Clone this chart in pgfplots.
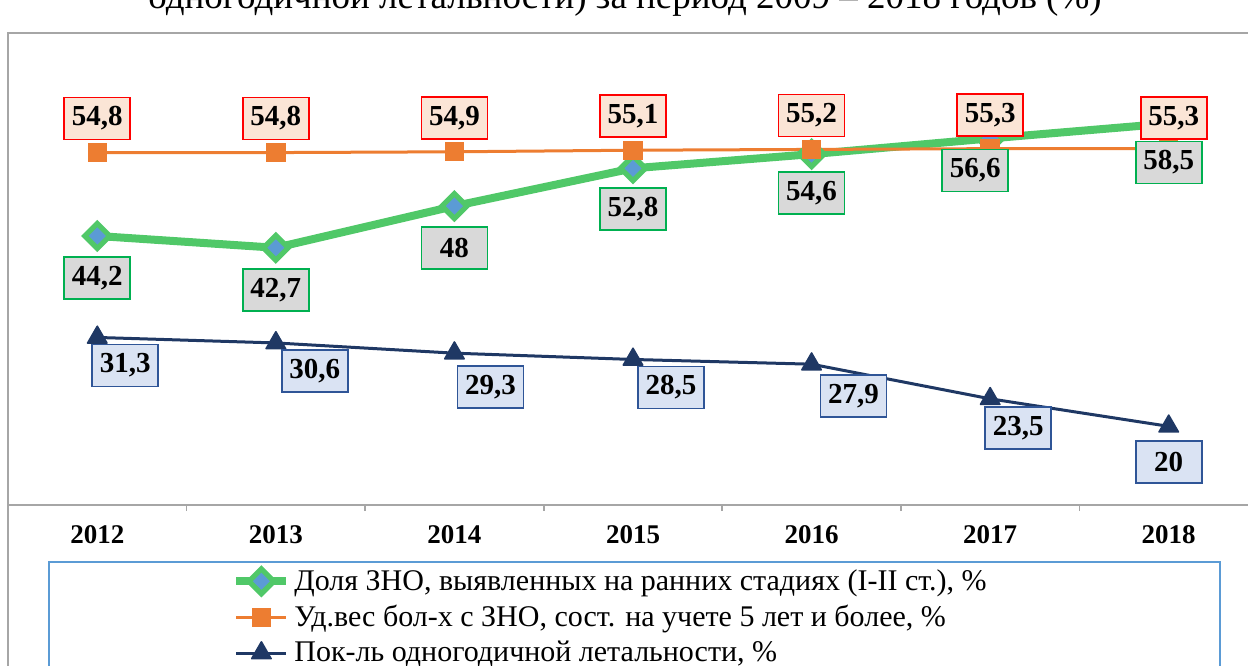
\documentclass[border=0pt]{standalone}
\usepackage{fontspec}
\setmainfont{Liberation Serif}
\usepackage{pgfplots}
\pgfplotsset{compat=1.18}

\definecolor{zgreen}{RGB}{80,200,104}
\definecolor{zgreenbd}{RGB}{0,176,80}
\definecolor{zgray}{RGB}{217,217,217}
\definecolor{zorange}{RGB}{237,125,49}
\definecolor{zpeach}{RGB}{251,229,214}
\definecolor{zred}{RGB}{255,0,0}
\definecolor{znavy}{RGB}{31,56,100}
\definecolor{zlblue}{RGB}{218,227,243}
\definecolor{znavybd}{RGB}{47,85,151}
\definecolor{zmark}{RGB}{91,155,213}
\definecolor{zframe}{RGB}{166,166,166}
\definecolor{zlegend}{RGB}{91,155,213}

% x = year index, y = value, dx/dy = label offset (pt)
\pgfplotstableread{
x y dx dy
0 44.2 0 -21
1 42.7 0 -21
2 48 0 -21
3 52.8 0 -20.5
4 54.6 0 -19.5
5 56.6 -7.5 -16
6 58.5 0 -19.5
}\greendata
\pgfplotstableread{
x y dx dy
0 54.8 0 17
1 54.8 0 17
2 54.9 0 17
3 55.1 0 17
4 55.2 0 17
5 55.3 0 17
6 55.3 2.5 15.5
}\orangedata
\pgfplotstableread{
x y dx dy
0 31.3 14 -14
1 30.6 19.5 -14
2 29.3 18 -17
3 28.5 19 -14
4 27.9 21 -16
5 23.5 14 -14.5
6 20 0 -18
}\navydata

\tikzset{
  lbl/.style={font=\bfseries\fontsize{14.5}{14.5}\selectfont, inner sep=0pt,
              minimum width=33pt, minimum height=21pt, line width=0.9pt,
              text=black, anchor=center},
}
\pgfplotsset{
  lblplot/.style={draw=none, mark=none, forget plot, point meta=explicit,
    nodes near coords={\pgfmathprintnumber[fixed,precision=1,use comma,assume math mode=true]{\pgfplotspointmeta}},
    visualization depends on={\thisrow{dx}\as\dx},
    visualization depends on={\thisrow{dy}\as\dy}},
}

\begin{document}
\begin{tikzpicture}
\useasboundingbox (0,0) rectangle (624pt,332.5pt);
\clip (0,0) rectangle (624pt,332.5pt);
\node[anchor=base, font=\fontsize{18.5}{18.5}\selectfont] at (312.5pt,328pt)
  {одногодичной летальности) за период 2009 – 2018 годов (\%)};
\draw[zframe, line width=1pt] (3.75pt,-5pt) -- (3.75pt,316pt) -- (640pt,316pt);
\draw[zlegend, line width=0.8pt] (24.5pt,-5pt) -- (24.5pt,51.5pt) -- (610pt,51.5pt) -- (610pt,-5pt);
\begin{axis}[
  at={(4pt,80pt)}, anchor=south west,
  scale only axis, width=625pt, height=236pt,
  xmin=-0.5, xmax=6.5, ymin=10, ymax=70,
  axis y line=none, axis x line*=bottom,
  x axis line style={zframe, line width=1pt},
  xtick={0,...,6},
  xticklabels={2012,2013,2014,2015,2016,2017,2018},
  major tick length=0pt,
  extra x ticks={0.5,1.5,2.5,3.5,4.5,5.5},
  extra x tick labels={},
  extra x tick style={major tick length=3pt, tick align=outside,
                      tick style={zframe, line width=0.8pt}},
  xticklabel style={font=\bfseries\fontsize{13.5}{13.5}\selectfont,
                    anchor=center, yshift=-15pt},
  clip=false,
  legend style={at={(0.1792,-0.1271)}, anchor=north west, draw=none, fill=none,
                font=\fontsize{15}{15}\selectfont, inner sep=0pt, row sep=1.9pt},
  legend cell align=left,
  legend image code/.code={\draw[mark repeat=2,mark phase=2]
     plot coordinates {(0pt,0pt) (12.5pt,0pt) (25pt,0pt)};},
]
\addplot[zgreen, line width=4pt, mark=square*, mark size=4.4pt,
  mark options={rotate=45, draw=zgreen, fill=zmark, line width=2.6pt}]
  table[x=x,y=y] {\greendata};
\addlegendentry{Доля ЗНО, выявленных на ранних стадиях (I-II ст.), \%}
\addplot[zorange, line width=1.5pt, mark=square*, mark size=4.6pt,
  mark options={rounded corners=1.5pt, fill=zorange, line width=0.5pt}]
  table[x=x,y=y] {\orangedata};
\addlegendentry{Уд.вес бол-х с ЗНО, сост. на учете 5 лет и более, \%}
\addplot[znavy, line width=1.5pt, mark=triangle*, mark size=5.6pt,
  mark options={fill=znavy, line width=0.8pt, line join=round}]
  table[x=x,y=y] {\navydata};
\addlegendentry{Пок-ль одногодичной летальности, \%}

\addplot[lblplot,
  nodes near coords style={lbl, draw=zred, fill=zpeach, xshift=\dx, yshift=\dy}]
  table[x=x,y=y,meta=y] {\orangedata};
\addplot[lblplot,
  nodes near coords style={lbl, draw=zgreenbd, fill=zgray, xshift=\dx, yshift=\dy}]
  table[x=x,y=y,meta=y] {\greendata};
\addplot[lblplot,
  nodes near coords style={lbl, draw=znavybd, fill=zlblue, xshift=\dx, yshift=\dy}]
  table[x=x,y=y,meta=y] {\navydata};
\end{axis}
\end{tikzpicture}
\end{document}
